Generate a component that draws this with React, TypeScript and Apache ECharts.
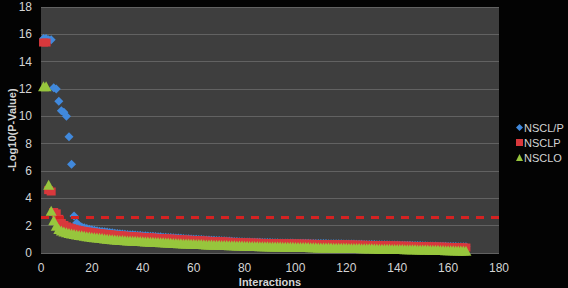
import React, { useEffect, useRef } from "react";
import * as echarts from "echarts";

const seriesNames = ["NSCL/P", "NSCLP", "NSCLO"];
const threshold = 2.6;
const xTicks = { min: 0, max: 180, interval: 20 };
const yTicks = { min: 0, max: 18, interval: 2 };

const nsclpSlash = [
  15.7, 15.7, 15.6, 15.6, 12.1, 12.0, 11.1, 10.4, 10.3, 10.0,
  8.5, 6.5, 2.7, 2.2, 2.0, 1.9, 1.84, 1.79, 1.74, 1.7,
  1.67, 1.63, 1.6, 1.58, 1.55, 1.53, 1.5, 1.48, 1.45, 1.43,
  1.41, 1.39, 1.37, 1.36, 1.34, 1.33, 1.31, 1.3, 1.29, 1.27,
  1.26, 1.24, 1.23, 1.22, 1.2, 1.19, 1.18, 1.16, 1.15, 1.14,
  1.13, 1.12, 1.1, 1.09, 1.08, 1.06, 1.05, 1.04, 1.02, 1.01,
  1.0, 0.99, 0.98, 0.97, 0.96, 0.95, 0.94, 0.93, 0.92, 0.91,
  0.9, 0.89, 0.88, 0.87, 0.86, 0.85, 0.84, 0.83, 0.82, 0.81,
  0.8, 0.8, 0.79, 0.79, 0.78, 0.78, 0.77, 0.77, 0.76, 0.76,
  0.75, 0.75, 0.75, 0.74, 0.74, 0.74, 0.73, 0.73, 0.73, 0.72,
  0.72, 0.72, 0.71, 0.71, 0.71, 0.7, 0.7, 0.7, 0.7, 0.69,
  0.69, 0.69, 0.68, 0.68, 0.68, 0.67, 0.67, 0.67, 0.66, 0.66,
  0.66, 0.65, 0.65, 0.64, 0.64, 0.64, 0.63, 0.63, 0.62, 0.62,
  0.62, 0.61, 0.61, 0.6, 0.6, 0.6, 0.59, 0.59, 0.58, 0.58,
  0.57, 0.57, 0.56, 0.56, 0.56, 0.55, 0.55, 0.54, 0.54, 0.53,
  0.53, 0.52, 0.52, 0.51, 0.51, 0.5, 0.5, 0.49, 0.49, 0.48,
  0.48, 0.47, 0.47, 0.46, 0.46, 0.45, 0.45,
];

const nsclp = [
  15.4, 15.4, 4.6, 4.5, 3.0, 2.9, 2.5, 2.2, 2.05, 1.95,
  1.88, 1.82, 1.77, 1.72, 1.68, 1.64, 1.61, 1.58, 1.55, 1.52,
  1.5, 1.47, 1.45, 1.43, 1.41, 1.39, 1.37, 1.35, 1.33, 1.31,
  1.3, 1.28, 1.27, 1.25, 1.24, 1.23, 1.21, 1.2, 1.19, 1.17,
  1.16, 1.15, 1.14, 1.13, 1.11, 1.1, 1.09, 1.08, 1.07, 1.06,
  1.05, 1.04, 1.03, 1.01, 1.0, 0.99, 0.98, 0.97, 0.96, 0.95,
  0.94, 0.93, 0.92, 0.91, 0.9, 0.89, 0.88, 0.87, 0.86, 0.86,
  0.85, 0.84, 0.83, 0.82, 0.81, 0.81, 0.8, 0.79, 0.78, 0.77,
  0.77, 0.76, 0.76, 0.75, 0.75, 0.74, 0.74, 0.73, 0.73, 0.72,
  0.72, 0.72, 0.71, 0.71, 0.71, 0.7, 0.7, 0.7, 0.69, 0.69,
  0.69, 0.68, 0.68, 0.68, 0.67, 0.67, 0.67, 0.66, 0.66, 0.66,
  0.65, 0.65, 0.65, 0.64, 0.64, 0.64, 0.63, 0.63, 0.63, 0.62,
  0.62, 0.62, 0.61, 0.61, 0.6, 0.6, 0.6, 0.59, 0.59, 0.58,
  0.58, 0.58, 0.57, 0.57, 0.56, 0.56, 0.56, 0.55, 0.55, 0.54,
  0.54, 0.53, 0.53, 0.53, 0.52, 0.52, 0.51, 0.51, 0.5, 0.5,
  0.49, 0.49, 0.48, 0.48, 0.47, 0.47, 0.46, 0.46, 0.45, 0.45,
  0.44, 0.44, 0.43, 0.43, 0.42, 0.41, 0.4,
];

const nsclo = [
  12.2, 12.2, 5.0, 3.1, 2.4, 2.0, 1.75, 1.65, 1.58, 1.52,
  1.47, 1.43, 1.39, 1.35, 1.32, 1.29, 1.26, 1.23, 1.2, 1.17,
  1.15, 1.13, 1.11, 1.09, 1.07, 1.05, 1.03, 1.01, 0.99, 0.97,
  0.96, 0.95, 0.94, 0.92, 0.91, 0.9, 0.89, 0.88, 0.87, 0.86,
  0.85, 0.84, 0.83, 0.82, 0.81, 0.8, 0.79, 0.78, 0.77, 0.76,
  0.75, 0.74, 0.73, 0.72, 0.71, 0.7, 0.7, 0.69, 0.68, 0.67,
  0.66, 0.66, 0.65, 0.64, 0.63, 0.63, 0.62, 0.61, 0.6, 0.6,
  0.59, 0.58, 0.58, 0.57, 0.56, 0.56, 0.55, 0.54, 0.54, 0.53,
  0.53, 0.52, 0.52, 0.51, 0.51, 0.5, 0.5, 0.49, 0.49, 0.48,
  0.48, 0.47, 0.47, 0.47, 0.46, 0.46, 0.45, 0.45, 0.45, 0.44,
  0.44, 0.44, 0.43, 0.43, 0.43, 0.42, 0.42, 0.42, 0.41, 0.41,
  0.41, 0.4, 0.4, 0.4, 0.39, 0.39, 0.39, 0.38, 0.38, 0.38,
  0.37, 0.37, 0.36, 0.36, 0.36, 0.35, 0.35, 0.34, 0.34, 0.34,
  0.33, 0.33, 0.32, 0.32, 0.32, 0.31, 0.31, 0.3, 0.3, 0.3,
  0.29, 0.29, 0.28, 0.28, 0.28, 0.27, 0.27, 0.26, 0.26, 0.26,
  0.25, 0.25, 0.24, 0.24, 0.23, 0.23, 0.22, 0.22, 0.21, 0.21,
  0.2, 0.2, 0.19, 0.19, 0.18, 0.18, 0.17,
];

const FONT = "'Liberation Sans', Arial, sans-serif";
const TEXT = "#d4d4d4";

const toPoints = (arr: number[]) => arr.map((v, i) => [i + 1, v]);

export default function App() {
  const ref = useRef<HTMLDivElement>(null);
  useEffect(() => {
    if (!ref.current) return;
    const chart = echarts.init(ref.current, undefined, { renderer: "svg" });
    chart.setOption({
      animation: false,
      backgroundColor: "#030303",
      textStyle: { fontFamily: FONT },
      grid: {
        left: 41,
        right: 69,
        top: 7,
        bottom: 35,
        containLabel: false,
        outerBoundsMode: "none",
        show: true,
        backgroundColor: "#3e3e3e",
        borderWidth: 0,
      },
      legend: {
        orient: "vertical",
        left: 516,
        top: 122,
        padding: 0,
        itemWidth: 7,
        itemHeight: 7,
        itemGap: 4,
        textStyle: { color: TEXT, fontSize: 11, fontFamily: FONT, padding: [0, 0, 0, -4] },
        data: [
          { name: seriesNames[0], icon: "diamond" },
          { name: seriesNames[1], icon: "rect" },
          { name: seriesNames[2], icon: "triangle" },
        ],
      },
      xAxis: {
        type: "value",
        min: xTicks.min,
        max: xTicks.max,
        interval: xTicks.interval,
        name: "Interactions",
        nameLocation: "middle",
        nameGap: 23,
        nameMoveOverlap: false,
        nameTextStyle: { color: TEXT, fontSize: 11, fontWeight: "bold", fontFamily: FONT },
        axisLine: { show: false },
        axisTick: { show: false },
        splitLine: { show: false },
        axisLabel: { color: TEXT, fontSize: 12, margin: 9, fontFamily: FONT },
      },
      yAxis: {
        type: "value",
        min: yTicks.min,
        max: yTicks.max,
        interval: yTicks.interval,
        name: "-Log10(P-Value)",
        nameLocation: "middle",
        nameGap: 24,
        nameMoveOverlap: false,
        nameTextStyle: { color: TEXT, fontSize: 11, fontWeight: "bold", fontFamily: FONT },
        axisLine: { show: false },
        axisTick: { show: false },
        splitLine: { show: true, lineStyle: { color: "#626262", width: 1 } },
        axisLabel: { color: TEXT, fontSize: 12, margin: 9, fontFamily: FONT },
      },
      series: [
        {
          name: seriesNames[0],
          type: "scatter",
          symbol: "diamond",
          symbolSize: [9, 9],
          itemStyle: { color: "#4189dc", opacity: 1 },
          data: toPoints(nsclpSlash),
          markLine: {
            silent: true,
            symbol: "none",
            label: { show: false },
            lineStyle: { color: "#d42222", width: 3, type: [8, 7] },
            data: [{ yAxis: threshold }],
            z: 10,
          },
        },
        {
          name: seriesNames[1],
          type: "scatter",
          symbol: "rect",
          symbolSize: [9, 8],
          itemStyle: { color: "#d8383c", opacity: 1 },
          data: toPoints(nsclp),
        },
        {
          name: seriesNames[2],
          type: "scatter",
          symbol: "triangle",
          symbolSize: [11, 10],
          itemStyle: { color: "#97c63d", opacity: 1 },
          data: toPoints(nsclo),
        },
      ],
    });
    return () => chart.dispose();
  }, []);
  return <div ref={ref} style={{ width: 568, height: 288, position: "absolute", left: 0, top: 0 }} />;
}
